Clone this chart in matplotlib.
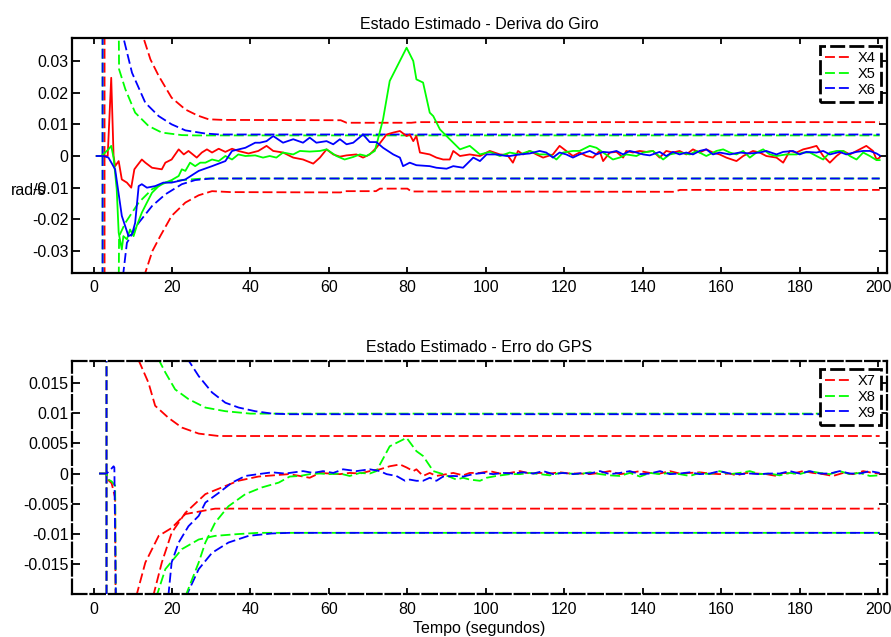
import matplotlib
matplotlib.use('Agg')
import matplotlib.pyplot as plt

plt.rcParams['font.family'] = ['Liberation Sans', 'DejaVu Sans']
plt.rcParams['axes.unicode_minus'] = False

# ---------------- axis text ----------------
title_top = 'Estado Estimado - Deriva do Giro'
title_bot = 'Estado Estimado - Erro do GPS'
ylabel_top = 'rad/s'
xlabel_bot = 'Tempo (segundos)'
labels_top = ['X4', 'X5', 'X6']
labels_bot = ['X7', 'X8', 'X9']
xticks = [0, 20, 40, 60, 80, 100, 120, 140, 160, 180, 200]
xticklabels = ['0', '20', '40', '60', '80', '100', '120', '140', '160', '180', '200']
yticks_top = [-0.03, -0.02, -0.01, 0, 0.01, 0.02, 0.03]
yticklabels_top = ['-0.03', '-0.02', '-0.01', '0', '0.01', '0.02', '0.03']
yticks_bot = [-0.015, -0.01, -0.005, 0, 0.005, 0.01, 0.015]
yticklabels_bot = ['-0.015', '-0.01', '-0.005', '0', '0.005', '0.01', '0.015']

# ---------------- top chart: bounds ----------------
b4_up_t = [2.8, 2.9, 8, 11, 12.7, 14.5, 16.6, 19.9, 23.4, 26.5, 29.3, 33, 63, 64.5, 81, 82.5, 200.4]
b4_up_v = [0, 1.0, 0.1, 0.05, 0.0374, 0.0305, 0.0253, 0.0184, 0.0147, 0.0128, 0.0116, 0.0114, 0.0113,
           0.0105, 0.0105, 0.0107, 0.0107]
b4_lo_t = [2.8, 2.9, 8, 11, 13.2, 15, 17.0, 19.9, 23.4, 26.8, 30.2, 35, 63, 64, 72, 73, 80, 81, 148, 149.5, 200.4]
b4_lo_v = [0, -1.0, -0.1, -0.05, -0.0368, -0.030, -0.0253, -0.0189, -0.0147, -0.0124, -0.0111, -0.0114,
           -0.0115, -0.0111, -0.0111, -0.0103, -0.0103, -0.0112, -0.0113, -0.0107, -0.0107]
b5_up_t = [2.3, 2.4, 5, 6.3, 6.5, 8.1, 10.6, 14.0, 17.4, 22.5, 26, 200.4]
b5_up_v = [0, 1.0, 0.1, 0.06, 0.0274, 0.0211, 0.0137, 0.0095, 0.0074, 0.0066, 0.0065, 0.0065]
b5_lo_t = [2.3, 2.4, 5, 6.3, 6.5, 8.1, 11.5, 14.9, 18.3, 22.5, 28, 200.4]
b5_lo_v = [0, -1.0, -0.1, -0.06, -0.0253, -0.0211, -0.0147, -0.0105, -0.0084, -0.0076, -0.0071, -0.0071]
b6_up_t = [2.3, 2.4, 5, 7.6, 9.8, 13.2, 16.6, 19.9, 23.4, 28.5, 32, 200.4]
b6_up_v = [0, 1.0, 0.1, 0.0374, 0.0263, 0.0168, 0.0126, 0.0100, 0.0081, 0.0071, 0.0068, 0.0068]
b6_lo_t = [2.3, 2.4, 5, 7.6, 8.5, 11.5, 14.9, 18.3, 22.5, 25.9, 30, 200.4]
b6_lo_v = [0, -1.0, -0.1, -0.0368, -0.0274, -0.0211, -0.0158, -0.0121, -0.0089, -0.0076, -0.0071, -0.0071]

# ---------------- top chart: estimates ----------------
x4_t = [0.8, 2.0, 3.6, 4.5, 5.1, 5.5, 6.4, 7.2, 8.5, 9.6, 10.4, 11.0, 12.3, 13.2, 14.9, 17.4, 18.3, 19.9,
        21.7, 23.0, 24.2, 26.3, 27.6, 28.9, 30.2, 31.9, 33.6, 35.3, 36.9, 39.5, 42.0, 44.1, 45.8, 48.3,
        50.9, 53.4, 56.0, 57.7, 59.4, 61.1, 62.8, 64.5, 67.0, 68.7, 70.4, 72.1, 74.7, 76.4, 78.1, 79.8,
        80.6, 81.5, 82.3, 83.2, 85.7, 87.4, 89.1, 90.8, 91.7, 93.4, 95.9, 98.5, 101.0, 103.6, 105.5,
        106.9, 108.2, 109.5, 111.2, 112.9, 114.6, 117.1, 118.8, 120.5, 122.2, 123.9, 125.6, 127.3, 129.0,
        129.9, 131.6, 133.3, 135.0, 135.8, 137.5, 139.2, 140.9, 142.6, 144.3, 146.0, 147.7, 149.4, 151.1,
        152.8, 154.5, 156.2, 157.9, 159.6, 161.3, 163.9, 165.6, 168.1, 169.8, 171.5, 174.1, 175.8, 177.5,
        179.2, 180.9, 182.6, 184.3, 186.0, 187.7, 189.4, 191.1, 192.8, 195.3, 197.0, 198.7, 199.6, 200.4]
x4_v = [0, 0, 0.0, 0.0247, 0.0, -0.0032, -0.0016, -0.0074, -0.0084, -0.0100, -0.0042, -0.0032, -0.0011,
        -0.0021, -0.0037, -0.0042, -0.0021, -0.0011, 0.0021, 0.0005, 0.0016, -0.0005, 0.0011, 0.0021,
        0.0011, 0.0023, 0.0013, 0.0023, 0.0016, 0.0008, 0.0016, 0.0032, 0.0016, 0.0011, -0.0005, -0.0011,
        -0.0024, -0.0005, 0.0021, 0.0005, -0.0002, 0.0002, 0.0005, -0.0005, 0.0005, 0.0026, 0.0068, 0.0074,
        0.0079, 0.0063, 0.0068, 0.0047, 0.0063, 0.0011, 0.0005, -0.0005, -0.0011, -0.0011, 0.0016, 0.0,
        0.0005, 0.0, 0.0016, 0.0005, 0.0003, -0.0021, 0.0016, 0.0005, 0.0016, 0.0005, -0.0005, 0.0005,
        0.0032, 0.0016, 0.0, 0.0011, 0.0, -0.0005, 0.0016, -0.0016, 0.0011, 0.0013, -0.0005, 0.0016,
        0.0011, 0.0016, 0.0013, 0.0016, -0.0005, 0.0016, 0.0011, 0.0016, 0.0005, 0.0021, 0.0011, 0.0021,
        0.0011, 0.0005, -0.0005, -0.0016, 0.0, 0.0016, 0.0011, 0.0, -0.0005, -0.0021, 0.0016, 0.0011,
        0.0021, 0.0026, 0.0032, 0.0, -0.0021, 0.0, 0.0016, 0.0005, 0.0021, 0.0032, 0.0016, -0.0011, -0.0005]

x5_t = [0.8, 2.0, 3.8, 4.5, 5.1, 5.9, 6.4, 7.2, 7.6, 8.5, 9.3, 10.2, 11.0, 12.3, 13.6, 14.9, 16.6, 18.3,
        19.9, 21.7, 22.5, 23.4, 24.6, 25.9, 27.2, 28.5, 30.2, 31.9, 33.6, 35.3, 36.9, 38.7, 41.2, 43.2,
        44.9, 46.6, 48.3, 50.9, 52.6, 55.1, 57.7, 59.4, 61.9, 64.0, 66.2, 67.9, 69.6, 71.7, 72.5, 73.8,
        75.5, 79.8, 81.5, 82.3, 84.0, 85.7, 86.6, 88.3, 90.8, 93.4, 95.9, 98.5, 101.0, 103.6, 106.1,
        108.6, 111.2, 113.7, 116.3, 118.0, 119.7, 122.2, 123.9, 126.5, 128.2, 129.9, 132.4, 134.1, 135.8,
        138.4, 140.1, 142.6, 145.2, 146.9, 149.4, 152.0, 153.7, 156.2, 158.8, 160.5, 162.2, 163.9, 165.6,
        167.3, 169.0, 170.7, 172.4, 174.1, 176.6, 179.2, 180.9, 182.6, 184.3, 186.0, 187.7, 189.4, 191.1,
        192.8, 194.5, 196.2, 197.9, 199.6, 200.4]
x5_v = [0, 0, 0.0021, 0.0032, -0.0005, -0.0105, -0.0242, -0.0295, -0.0253, -0.0263, -0.0232, -0.0253,
        -0.0221, -0.0179, -0.0147, -0.0116, -0.0095, -0.0084, -0.0076, -0.0063, -0.0042, -0.0047, -0.0021,
        -0.0032, -0.0021, -0.0021, -0.0011, -0.0016, 0.0, -0.0011, 0.0005, 0.0, 0.0002, -0.0005, 0.0,
        -0.0005, 0.0011, 0.0005, 0.0016, 0.0014, 0.0016, 0.0021, 0.0, -0.0011, -0.0003, 0.0005, 0.0, 0.0016,
        0.0053, 0.0116, 0.0237, 0.0342, 0.0300, 0.0242, 0.0232, 0.0137, 0.0126, 0.0084, 0.0053, 0.0021,
        0.0032, 0.0005, 0.0013, 0.0, 0.0011, 0.0005, 0.0016, 0.0005, 0.0005, -0.0011, 0.0011, 0.0016,
        0.0016, 0.0032, 0.0026, 0.0011, -0.0011, -0.0005, 0.0005, 0.0, 0.0011, 0.0016, -0.0011, 0.0005,
        0.0011, 0.0005, 0.0016, 0.0, 0.0016, 0.0021, 0.0011, 0.0005, 0.0016, -0.0005, 0.0011, 0.0021,
        0.0005, 0.0, 0.0005, 0.0005, 0.0011, 0.0011, 0.0, -0.0011, 0.0011, 0.0016, 0.0016, 0.0, -0.0011,
        0.0011, 0.0, -0.0013, -0.0013]

x6_t = [0.8, 2.5, 3.8, 5.5, 7.2, 8.9, 9.8, 10.6, 11.5, 12.3, 13.6, 15.7, 17.8, 19.9, 23.4, 26.8, 30.2,
        33.6, 35.3, 38.7, 41.2, 42.4, 44.1, 45.8, 48.3, 50.9, 53.4, 55.1, 56.8, 59.4, 61.1, 62.8, 64.5,
        66.2, 68.7, 70.4, 72.1, 73.8, 76.4, 78.1, 78.9, 80.6, 82.3, 85.7, 87.4, 90.0, 91.7, 94.2, 96.8,
        98.5, 100.2, 102.7, 105.3, 106.1, 108.6, 111.2, 113.7, 115.4, 117.1, 118.8, 120.5, 122.2, 123.9,
        126.5, 128.2, 129.9, 131.6, 133.3, 135.0, 136.7, 138.4, 140.1, 141.8, 144.3, 146.0, 147.7, 149.4,
        151.1, 152.8, 154.5, 156.2, 157.9, 159.6, 162.2, 164.7, 167.3, 169.8, 171.5, 174.1, 175.8, 178.3,
        180.0, 181.7, 184.3, 186.0, 187.7, 190.2, 191.9, 194.5, 196.2, 197.9, 199.6, 200.4]
x6_v = [0, 0, -0.0005, -0.0042, -0.0189, -0.0253, -0.0247, -0.0211, -0.0095, -0.0089, -0.0100, -0.0095,
        -0.0084, -0.0084, -0.0074, -0.0047, -0.0032, -0.0016, 0.0016, 0.0026, 0.0042, 0.0042, 0.0047,
        0.0063, 0.0042, 0.0053, 0.0042, 0.0058, 0.0042, 0.0047, 0.0037, 0.0053, 0.0037, 0.0042, 0.0068,
        0.0044, 0.0044, 0.0026, 0.0005, -0.0005, -0.0032, -0.0021, -0.0029, -0.0032, -0.0037, -0.0040,
        -0.0032, -0.0037, -0.0005, -0.0016, 0.0005, 0.0005, 0.0, 0.0, 0.0005, 0.0008, 0.0016, 0.0011,
        -0.0005, 0.0011, 0.0005, -0.0005, 0.0005, 0.0016, 0.0005, 0.0013, 0.0011, 0.0016, 0.0005, 0.0016,
        0.0011, 0.0005, 0.0002, 0.0013, 0.0, 0.0013, 0.0005, 0.0011, 0.0005, 0.0016, 0.0021, 0.0005,
        0.0011, 0.0005, 0.0011, 0.0008, 0.0011, 0.0016, 0.0005, 0.0013, 0.0016, 0.0005, 0.0013, 0.0011,
        0.0016, 0.0005, 0.0013, 0.0005, 0.0013, 0.0016, 0.0016, 0.0008, 0.0002]

# ---------------- bottom chart: bounds ----------------
b7_up_t = [3.3, 3.4, 8, 10, 11.5, 14.0, 15.7, 19.1, 22.5, 26.8, 31.9, 200.4]
b7_up_v = [0, 1.0, 0.05, 0.025, 0.0187, 0.0150, 0.0112, 0.0092, 0.0076, 0.0066, 0.0062, 0.0062]
b7_lo_t = [3.3, 3.4, 8, 10, 11.0, 13.2, 16.6, 19.9, 23.4, 27.6, 31, 200.4]
b7_lo_v = [0, -1.0, -0.05, -0.025, -0.0200, -0.0147, -0.0103, -0.0090, -0.0067, -0.0062, -0.0058, -0.0058]
b8_up_t = [3.3, 3.4, 10, 15, 16.7, 18.3, 20.8, 24.2, 28.5, 33.6, 40, 200.4]
b8_up_v = [0, 1.0, 0.05, 0.025, 0.0187, 0.0167, 0.0139, 0.0123, 0.0109, 0.0103, 0.0099, 0.0099]
b8_lo_t = [3.3, 3.4, 10, 14, 16.2, 18.3, 22.5, 26.8, 31.0, 36.9, 42, 200.4]
b8_lo_v = [0, -1.0, -0.05, -0.025, -0.0200, -0.0158, -0.0125, -0.0109, -0.0103, -0.0100, -0.0098, -0.0098]
b9_up_t = [3.3, 3.4, 15, 22, 24.2, 26.8, 30.2, 33.6, 37.0, 41.2, 45.5, 50, 200.4]
b9_up_v = [0, 1.0, 0.05, 0.025, 0.0187, 0.0161, 0.0134, 0.0117, 0.0109, 0.0103, 0.0099, 0.0098, 0.0098]
b9_lo_t = [3.3, 3.4, 15, 21, 23.8, 26.8, 30.2, 34.4, 39.5, 45.5, 50, 200.4]
b9_lo_v = [0, -1.0, -0.05, -0.025, -0.0200, -0.0158, -0.0131, -0.0114, -0.0103, -0.0099, -0.0098, -0.0098]

# ---------------- bottom chart: estimates ----------------
x7_t = [1.4, 3.3, 3.6, 4.6, 5.5, 5.8, 10, 15.3, 17.4, 19.9, 23.4, 28.5, 32.7, 36.9, 42.0, 49.7, 52.6, 55.1,
        57.7, 60.2, 62.8, 65.3, 67.9, 70.4, 73.0, 75.5, 78.1, 79.8, 81.5, 82.3, 84.0, 85.7, 87.4, 90.0,
        91.7, 94.2, 95.9, 98.5, 101.0, 103.6, 106.1, 108.7, 111.2, 113.8, 116.3, 118.9, 121.4, 124.0,
        126.5, 129.1, 131.6, 134.2, 136.7, 139.3, 141.8, 144.4, 146.9, 149.4, 152.0, 154.5, 157.1, 159.6,
        162.2, 163.9, 166.4, 169.0, 171.5, 174.1, 175.8, 178.3, 180.9, 183.4, 186.0, 188.5, 191.1, 193.6,
        196.2, 198.7, 200.4]
x7_v = [0, 0, -0.0010, -0.0016, -0.0040, -0.05, -0.05, -0.0200, -0.0147, -0.0098, -0.0065, -0.0034,
        -0.0023, -0.0012, -0.0005, -0.0001, -0.0004, -0.0007, 0.0001, 0.0, -0.0001, 0.0001, 0.0, 0.0004,
        0.0007, 0.0012, 0.0015, 0.0010, 0.0004, 0.0007, -0.0004, 0.0001, -0.0004, -0.0001, 0.0001, -0.0003,
        0.0001, 0.0001, 0.0004, 0.0, 0.0001, 0.0004, 0.0, 0.0001, 0.0, 0.0002, 0.0, 0.0, -0.0001, 0.0001,
        0.0004, -0.0001, 0.0001, 0.0004, 0.0001, 0.0, 0.0004, 0.0, 0.0001, 0.0002, 0.0, -0.0001, 0.0,
        -0.0003, 0.0001, 0.0, -0.0001, -0.0004, 0.0001, 0.0, 0.0004, 0.0001, -0.0001, -0.0004, 0.0001,
        -0.0001, 0.0004, 0.0001, 0.0]

x8_t = [1.4, 3.3, 3.8, 4.6, 5.5, 5.9, 20, 23.6, 26.8, 28.5, 31.0, 34.4, 38.7, 42.9, 47.2, 50.0, 52.6,
        55.1, 57.7, 60.2, 62.8, 65.3, 67.9, 70.4, 72.1, 75.5, 79.8, 82.3, 84.0, 86.6, 89.1, 92.5, 94.2,
        95.9, 98.5, 100.2, 102.7, 106.1, 108.7, 111.2, 113.8, 116.3, 118.9, 121.4, 124.0, 126.5, 129.1,
        131.6, 134.2, 136.7, 139.3, 141.8, 144.4, 146.9, 149.4, 152.0, 154.5, 157.1, 159.6, 162.2, 164.7,
        167.3, 169.8, 172.3, 174.9, 177.5, 180.0, 182.6, 185.1, 187.7, 190.2, 192.8, 195.3, 197.9, 200.4]
x8_v = [0, 0, -0.0010, -0.0013, -0.0020, -0.05, -0.05, -0.0200, -0.0147, -0.0114, -0.0081, -0.0054,
        -0.0034, -0.0023, -0.0015, -0.0005, -0.0004, -0.0001, 0.0, -0.0001, 0.0, -0.0004, 0.0001, 0.0,
        0.0004, 0.0045, 0.0059, 0.0037, 0.0029, 0.0004, -0.0001, -0.0010, -0.0007, -0.0010, -0.0012,
        -0.0007, -0.0004, -0.0001, -0.0001, 0.0001, -0.0001, -0.0003, 0.0001, 0.0, -0.0001, 0.0002,
        -0.0001, -0.0003, -0.0004, 0.0001, -0.0005, 0.0001, -0.0001, 0.0001, -0.0001, -0.0004, 0.0001,
        -0.0001, 0.0004, -0.0001, 0.0001, 0.0004, -0.0001, 0.0, -0.0003, 0.0001, -0.0001, 0.0004, 0.0001,
        -0.0001, 0.0004, -0.0001, 0.0001, -0.0004, -0.0003]

x9_t = [1.4, 3.3, 4.0, 5.1, 5.3, 6.2, 15, 19.1, 19.9, 21.7, 24.2, 26.8, 28.5, 31.9, 35.3, 38.7, 42.0, 45.5,
        48.8, 50.0, 53.4, 56.0, 58.5, 61.1, 63.6, 67.0, 70.4, 73.0, 74.7, 77.2, 79.4, 80.6, 82.3, 84.0,
        85.7, 87.4, 89.1, 91.7, 94.2, 96.8, 99.3, 101.9, 104.4, 106.9, 109.5, 112.1, 114.6, 117.2, 119.7,
        122.3, 124.8, 126.5, 129.1, 131.6, 134.2, 136.7, 139.3, 141.8, 144.4, 146.9, 149.4, 152.0, 154.5,
        157.1, 159.6, 162.2, 164.7, 167.3, 169.8, 172.3, 174.9, 177.5, 180.0, 182.6, 185.1, 187.7, 190.2,
        192.8, 195.3, 197.9, 200.4]
x9_v = [0, 0, 0.0004, 0.0012, 0.0010, -0.05, -0.05, -0.0200, -0.0147, -0.0114, -0.0087, -0.0070, -0.0048,
        -0.0032, -0.0015, -0.0004, -0.0001, 0.0002, 0.0, 0.0001, 0.0004, 0.0001, 0.0004, 0.0001, 0.0007,
        0.0004, 0.0007, 0.0004, -0.0001, -0.0004, -0.0012, -0.0010, -0.0012, -0.0012, -0.0007, -0.0012,
        -0.0005, -0.0004, -0.0005, -0.0001, 0.0001, -0.0001, 0.0001, 0.0, 0.0002, 0.0, 0.0004, -0.0001,
        0.0001, -0.0001, 0.0001, 0.0, 0.0004, -0.0001, 0.0001, 0.0004, -0.0001, 0.0, 0.0004, -0.0001, 0.0,
        0.0002, -0.0001, 0.0, 0.0004, 0.0, -0.0001, 0.0, -0.0001, 0.0, 0.0, 0.0004, 0.0, 0.0004, 0.0, 0.0,
        0.0004, 0.0, 0.0, 0.0004, 0.0001]

RED, GREEN, BLUE = '#ff0000', '#00ff00', '#0000ff'
DASH = (5.5, 2.2)
LW = 1.3
FS = 11.5

fig = plt.figure(figsize=(8.91, 6.37), dpi=100)
ax1 = fig.add_axes([0.0808, 0.5719, 0.9144, 0.3689])
ax2 = fig.add_axes([0.0808, 0.0670, 0.9144, 0.3667])

# top
h4, = ax1.plot(b4_up_t, b4_up_v, color=RED, lw=LW, dashes=DASH)
ax1.plot(b4_lo_t, b4_lo_v, color=RED, lw=LW, dashes=DASH)
h5, = ax1.plot(b5_up_t, b5_up_v, color=GREEN, lw=LW, dashes=DASH)
ax1.plot(b5_lo_t, b5_lo_v, color=GREEN, lw=LW, dashes=DASH)
h6, = ax1.plot(b6_up_t, b6_up_v, color=BLUE, lw=LW, dashes=DASH)
ax1.plot(b6_lo_t, b6_lo_v, color=BLUE, lw=LW, dashes=DASH)
ax1.plot(x4_t, x4_v, color=RED, lw=LW)
ax1.plot(x5_t, x5_v, color=GREEN, lw=LW)
ax1.plot(x6_t, x6_v, color=BLUE, lw=LW)

# bottom
h7, = ax2.plot(b7_up_t, b7_up_v, color=RED, lw=LW, dashes=DASH)
ax2.plot(b7_lo_t, b7_lo_v, color=RED, lw=LW, dashes=DASH)
h8, = ax2.plot(b8_up_t, b8_up_v, color=GREEN, lw=LW, dashes=DASH)
ax2.plot(b8_lo_t, b8_lo_v, color=GREEN, lw=LW, dashes=DASH)
h9, = ax2.plot(b9_up_t, b9_up_v, color=BLUE, lw=LW, dashes=DASH)
ax2.plot(b9_lo_t, b9_lo_v, color=BLUE, lw=LW, dashes=DASH)
ax2.plot(x7_t, x7_v, color=RED, lw=LW, dashes=DASH)
ax2.plot(x8_t, x8_v, color=GREEN, lw=LW, dashes=DASH)
ax2.plot(x9_t, x9_v, color=BLUE, lw=LW, dashes=DASH)

ax1.set_xlim(-5.5, 202.2)
ax2.set_xlim(-5.5, 202.2)
ax1.set_ylim(-0.03685, 0.03736)
ax2.set_ylim(-0.01996, 0.01864)

for ax, yt, ytl in ((ax1, yticks_top, yticklabels_top), (ax2, yticks_bot, yticklabels_bot)):
    ax.set_xticks(xticks)
    ax.set_xticklabels(xticklabels)
    ax.set_yticks(yt)
    ax.set_yticklabels(ytl)
    ax.tick_params(direction='in', top=True, right=True, width=1.3, labelsize=FS, colors='black')
    ax.tick_params(axis='x', length=4.5, pad=5.5)
    ax.tick_params(axis='y', length=5.5, pad=2.5)

for sp in ax1.spines.values():
    sp.set_linewidth(1.6)
for sp in ax2.spines.values():
    sp.set_linewidth(1.6)
    sp.set_linestyle((0, (6.5, 1.8)))

ax1.set_title(title_top, fontsize=FS, pad=6.5)
ax2.set_title(title_bot, fontsize=FS, pad=6.5)
fig.text(0.0123, 0.7017, ylabel_top, fontsize=FS, ha='left', va='center')
fig.text(0.538, 0.0141, xlabel_bot, fontsize=FS, ha='center', va='center')

for ax, hs, labs in ((ax1, [h4, h5, h6], labels_top), (ax2, [h7, h8, h9], labels_bot)):
    leg = ax.legend(hs, labs, loc='upper right', bbox_to_anchor=(0.993, 0.965), borderaxespad=0,
                    fontsize=10.5, fancybox=False, framealpha=1, edgecolor='black',
                    handlelength=1.75, handletextpad=0.5, borderpad=0.35, labelspacing=0.12)
    fr = leg.get_frame()
    fr.set_linewidth(2.0)
    fr.set_linestyle((0, (5.4, 1.5)))

fig.savefig('out.png', dpi=100)
